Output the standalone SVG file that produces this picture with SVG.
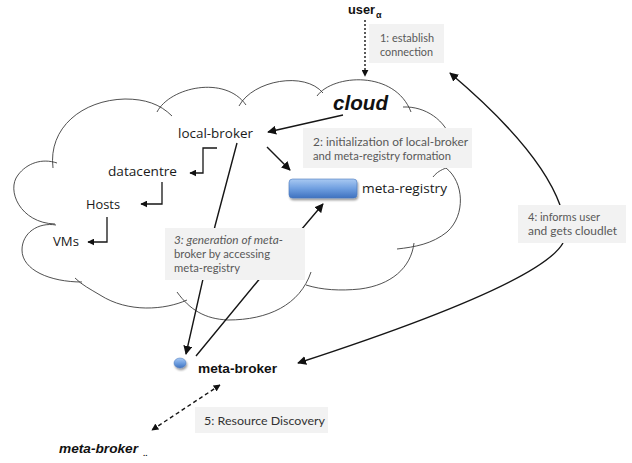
<svg xmlns="http://www.w3.org/2000/svg" width="632" height="463" viewBox="0 0 632 463">
  <defs>
    <linearGradient id="blueFill" x1="0" y1="0" x2="0" y2="1">
      <stop offset="0" stop-color="#a9c9f2"/>
      <stop offset="0.5" stop-color="#6f9fe0"/>
      <stop offset="1" stop-color="#3f72c0"/>
    </linearGradient>
    <marker id="head" viewBox="0 0 10 10" refX="9" refY="5" markerWidth="9" markerHeight="9" markerUnits="userSpaceOnUse" orient="auto-start-reverse">
      <path d="M0,0 L10,5 L0,10 Z" fill="#111"/>
    </marker>
    <marker id="headSmall" viewBox="0 0 10 10" refX="9" refY="5" markerWidth="7" markerHeight="7" markerUnits="userSpaceOnUse" orient="auto-start-reverse">
      <path d="M0,0 L10,5 L0,10 Z" fill="#111"/>
    </marker>
    <filter id="shadow" x="-20%" y="-30%" width="140%" height="170%">
      <feGaussianBlur in="SourceAlpha" stdDeviation="1.2"/>
      <feOffset dx="1" dy="1.5" result="b"/>
      <feComponentTransfer><feFuncA type="linear" slope="0.4"/></feComponentTransfer>
      <feMerge><feMergeNode/><feMergeNode in="SourceGraphic"/></feMerge>
    </filter>
  </defs>
  <style>
    .cloud { fill: none; stroke: #3c3c3c; stroke-width: 0.9; }
    .note { fill: #f2f2f2; }
    .noteText { font-family: Lato, "Liberation Sans", sans-serif; font-size: 10.5px; fill: #595959; }
    .node { font-family: "Open Sans", "Liberation Sans", sans-serif; font-size: 12.5px; fill: #1a1a1a; }
    .bold { font-family: "Liberation Sans", Arial, sans-serif; font-weight: bold; fill: #111; }
    .conn { fill: none; stroke: #161616; stroke-width: 1.4; }
    .elbow { fill: none; stroke: #161616; stroke-width: 1.3; }
  </style>

  <!-- cloud outline, one stroke per lobe -->
  <g id="cloud-shape">
    <path class="cloud" d="M55,224 C20,223 6,190 18,175 C27,163 42,158 57,163"/>
    <path class="cloud" d="M53,168 C48,128 82,100 125,99 C145,99 160,104 172,116"/>
    <path class="cloud" d="M157,112 C170,87 225,75 246,105"/>
    <path class="cloud" d="M239,106 C253,80 305,71 323,93"/>
    <path class="cloud" d="M317,96 C333,74 395,70 411,112"/>
    <path class="cloud" d="M403,107 C425,106 446,120 452,142"/>
    <path class="cloud" d="M433,177 C437,172 441,170 446,168 C464,182 466,215 447,232 C432,244 415,247 397,249"/>
    <path class="cloud" d="M414,243 C411,268 391,285 360,289 C340,291 322,290 306,285"/>
    <path class="cloud" d="M311,272 C300,305 268,320 228,320 C205,319 190,310 177,292"/>
    <path class="cloud" d="M187,300 C165,310 128,313 100,295 C90,289 82,285 75,278"/>
    <path class="cloud" d="M82,282 C50,282 22,270 22,250 C22,233 38,222 56,225"/>
  </g>

  <!-- nodes -->
  <g id="user">
    <text class="bold" x="348" y="14" font-size="13" textLength="27" lengthAdjust="spacingAndGlyphs">user</text>
    <text class="bold" x="376" y="18" font-size="9">α</text>
  </g>
  <g id="cloud-label">
    <text class="bold" x="333" y="110" font-size="20" font-style="italic" textLength="55" lengthAdjust="spacingAndGlyphs">cloud</text>
  </g>
  <g id="local-broker">
    <text class="node" x="178" y="138" textLength="75" lengthAdjust="spacingAndGlyphs">local-broker</text>
  </g>
  <g id="datacentre">
    <text class="node" x="108" y="176" textLength="69" lengthAdjust="spacingAndGlyphs">datacentre</text>
  </g>
  <g id="hosts">
    <text class="node" x="86" y="209" textLength="34" lengthAdjust="spacingAndGlyphs">Hosts</text>
  </g>
  <g id="vms">
    <text class="node" x="53" y="246" textLength="26" lengthAdjust="spacingAndGlyphs">VMs</text>
  </g>
  <g id="meta-registry">
    <rect x="289" y="179" width="68" height="19" rx="3.5" fill="url(#blueFill)" stroke="#4a78bd" stroke-width="0.6" filter="url(#shadow)"/>
    <text class="node" x="362" y="193" textLength="85" lengthAdjust="spacingAndGlyphs">meta-registry</text>
  </g>
  <g id="meta-broker">
    <ellipse cx="180" cy="363" rx="6" ry="5" fill="url(#blueFill)" stroke="#4a78bd" stroke-width="0.5" filter="url(#shadow)"/>
    <text class="bold" x="198" y="373" font-size="12.5" textLength="79" lengthAdjust="spacingAndGlyphs">meta-broker</text>
  </g>
  <g id="meta-broker-n">
    <text class="bold" x="59" y="453" font-size="12" font-style="italic" textLength="79" lengthAdjust="spacingAndGlyphs">meta-broker</text>
    <text class="bold" x="143" y="456" font-size="8">..</text>
  </g>

  <!-- connectors -->
  <g id="connectors">
    <path class="conn" d="M365,20 V76" stroke-width="3" stroke-dasharray="2,2" marker-end="url(#headSmall)"/>
    <path class="conn" d="M343,115 L268,132" marker-end="url(#head)"/>
    <path class="elbow" d="M217,148 H203 V173 H190" marker-end="url(#headSmall)"/>
    <path class="elbow" d="M162,182 V204 H141" marker-end="url(#headSmall)"/>
    <path class="elbow" d="M107,217 V242 H88" marker-end="url(#headSmall)"/>
    <path class="conn" d="M267,147 L290,170" marker-end="url(#head)"/>
    <path class="conn" d="M237,143 L215,226 L186,354" marker-end="url(#head)"/>
    <path class="conn" d="M196,356 L257,282 L323,204" marker-end="url(#head)"/>
    <path class="conn" d="M560,205 C548,172 515,128 450,73" stroke-width="1.8" marker-end="url(#head)"/>
    <path class="conn" d="M563,243 C545,275 430,320 298,363" stroke-width="2.2" stroke="#2a2a2a" marker-end="url(#head)"/>
    <path class="conn" d="M220,385 L152,430" stroke-width="2.6" stroke="#2a2a2a" stroke-dasharray="4,3" marker-start="url(#headSmall)" marker-end="url(#headSmall)"/>
  </g>

  <!-- explanatory notes, laid over the lines they label -->
  <g id="note-1">
    <rect class="note" x="369" y="24" width="75" height="39"/>
    <text class="noteText" x="380" y="42" textLength="54" lengthAdjust="spacingAndGlyphs">1: establish</text>
    <text class="noteText" x="380" y="56" textLength="53" lengthAdjust="spacingAndGlyphs">connection</text>
  </g>
  <g id="note-2">
    <rect class="note" x="303" y="128" width="169" height="40"/>
    <text class="noteText" x="313" y="146" textLength="155" lengthAdjust="spacingAndGlyphs">2: initialization of local-broker</text>
    <text class="noteText" x="313" y="160" textLength="138" lengthAdjust="spacingAndGlyphs">and meta-registry formation</text>
  </g>
  <g id="note-3">
    <rect class="note" x="165" y="228" width="140" height="52"/>
    <text class="noteText" x="174" y="244" textLength="109" lengthAdjust="spacingAndGlyphs" font-style="italic">3: generation of meta-</text>
    <text class="noteText" x="174" y="258" textLength="96" lengthAdjust="spacingAndGlyphs">broker by accessing</text>
    <text class="noteText" x="174" y="272" textLength="66" lengthAdjust="spacingAndGlyphs">meta-registry</text>
  </g>
  <g id="note-4">
    <rect class="note" x="518" y="205" width="108" height="38"/>
    <text class="noteText" x="528" y="221" textLength="72" lengthAdjust="spacingAndGlyphs">4: informs user</text>
    <text class="noteText" x="528" y="235" textLength="89" lengthAdjust="spacingAndGlyphs">and gets cloudlet</text>
  </g>
  <g id="note-5">
    <rect class="note" x="195" y="407" width="133" height="26"/>
    <text class="noteText" x="204" y="425" textLength="121" lengthAdjust="spacingAndGlyphs" style="fill:#333;font-size:11.5px">5: Resource Discovery</text>
  </g>
</svg>
